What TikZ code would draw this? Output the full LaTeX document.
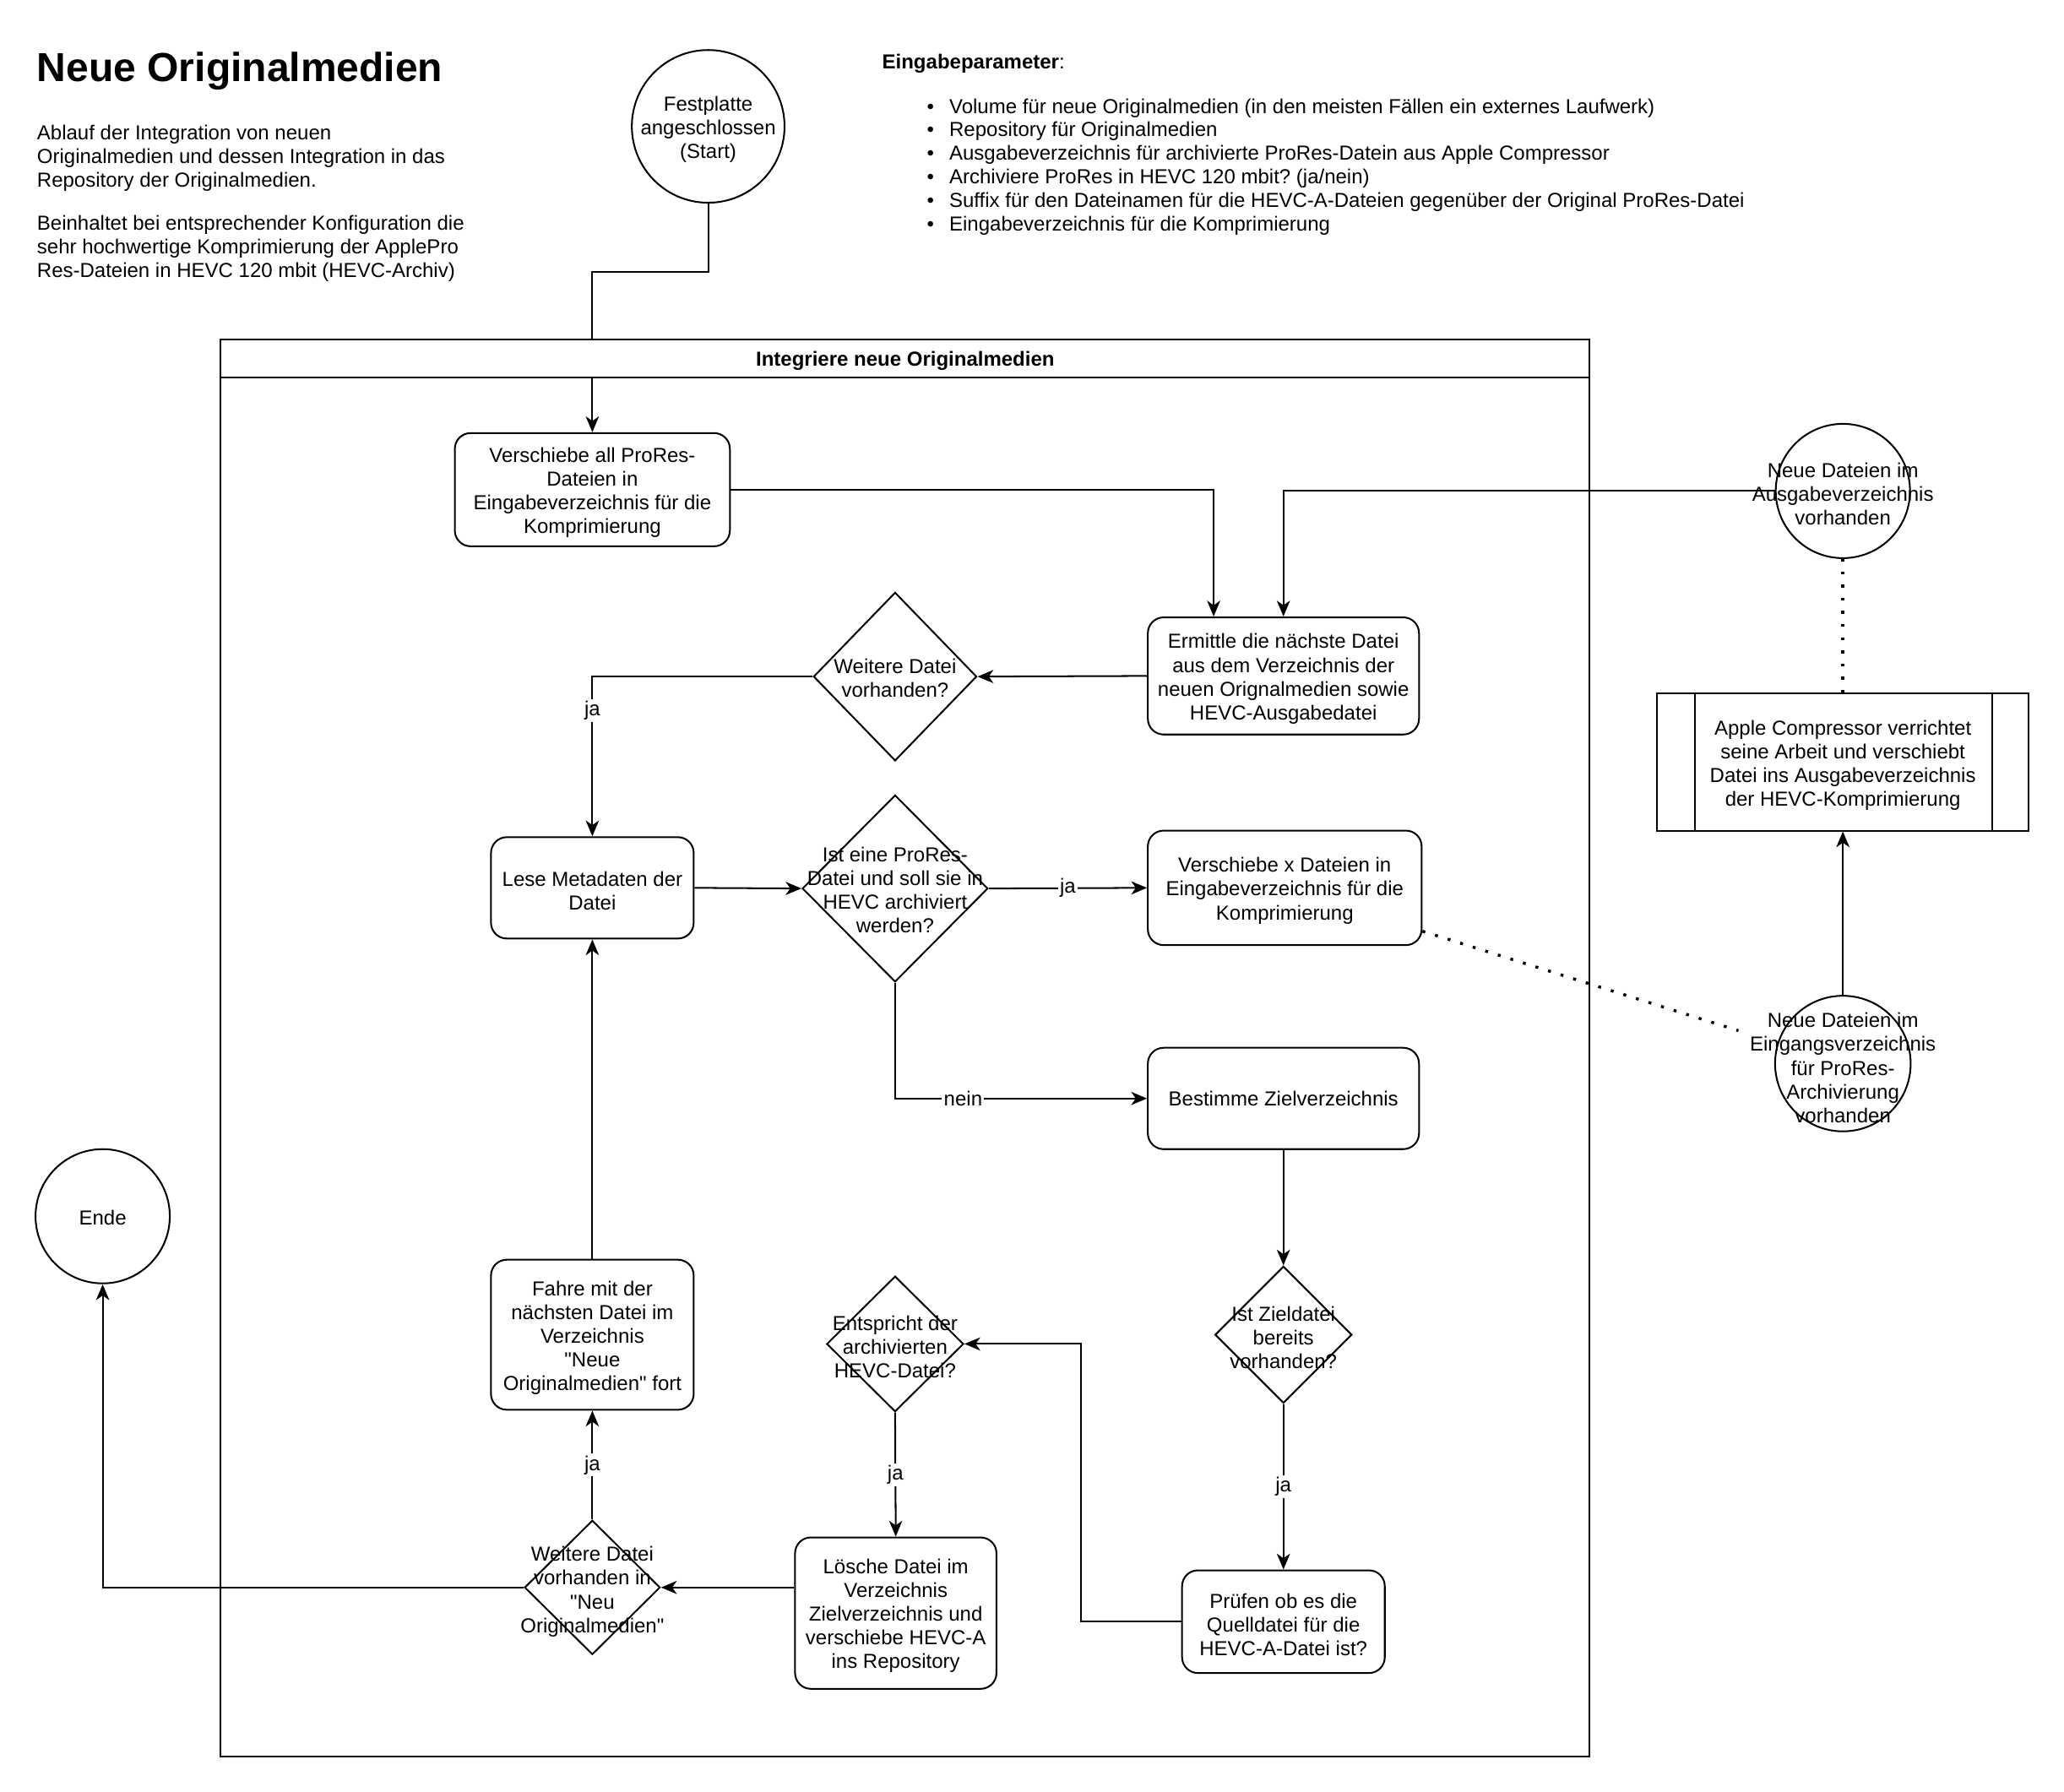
\documentclass[tikz,border=0pt]{standalone}
\usepackage{fontspec}
\setmainfont{Liberation Sans}[Ligatures=TeXOff]
\usetikzlibrary{arrows.meta,shapes.geometric}
\frenchspacing

\tikzset{
  every node/.style={font=\fontsize{15.4}{18}\selectfont},
  box/.style={draw, line width=1.3pt, rounded corners=12pt, inner sep=0pt, align=center},
  lowered/.style={execute at begin node={\rule{0pt}{15.8pt}}},
  dia/.style={draw, diamond, line width=1.3pt, inner sep=0pt},
  circ/.style={draw, circle, line width=1.3pt, inner sep=0pt},
  txt/.style={align=center, inner sep=0pt, yshift=-2.2pt},
  flow/.style={line width=1.3pt, -{Stealth[length=12pt,width=10pt,inset=3.5pt]}},
  link/.style={line width=1.3pt},
  dots/.style={line width=2.2pt, dash pattern=on 2.2pt off 7.8pt},
  tag/.style={fill=white, inner sep=1.5pt},
}

\begin{document}
\begin{tikzpicture}[x=1pt, y=-1pt]
\useasboundingbox (0,0) rectangle (1568,1361);

% --- heading and description ---
\node[anchor=base west, inner sep=0pt, font=\fontsize{30.8}{36}\selectfont\bfseries] (title) at (28,62) {Neue Originalmedien};
\node[anchor=west, align=left, inner sep=0pt, font=\fontsize{15.4}{17.9}\selectfont] (desc1) at (28,120)
  {Ablauf der Integration von neuen\\Originalmedien und dessen Integration in das\\Repository der Originalmedien.};
\node[anchor=west, align=left, inner sep=0pt, font=\fontsize{15.4}{17.9}\selectfont] (desc2) at (28,189)
  {Beinhaltet bei entsprechender Konfiguration die\\sehr hochwertige Komprimierung der ApplePro\\Res-Dateien in HEVC 120 mbit (HEVC-Archiv)};

% --- input parameters ---
\node[anchor=base west, inner sep=0pt] (params) at (670,52.5) {\textbf{Eingabeparameter}:};
\foreach \t [count=\i] in {
  Volume für neue Originalmedien (in den meisten Fällen ein externes Laufwerk),
  Repository für Originalmedien,
  Ausgabeverzeichnis für archivierte ProRes-Datein aus Apple Compressor,
  Archiviere ProRes in HEVC 120 mbit? (ja/nein),
  Suffix für den Dateinamen für die HEVC-A-Dateien gegenüber der Original ProRes-Datei,
  Eingabeverzeichnis für die Komprimierung}{
  \node[anchor=base west, inner sep=0pt] (bul\i) at (704,86+17.9*\i-17.9) {•};
  \node[anchor=base west, inner sep=0pt] (par\i) at (721,86+17.9*\i-17.9) {\t};
}

% --- pool ---
\node[draw, line width=1.3pt, minimum width=1040pt, minimum height=1077pt, anchor=north west, inner sep=0pt] (pool) at (167,257) {};
\node[draw, line width=1.3pt, minimum width=1040pt, minimum height=29pt, anchor=north west, inner sep=0pt, font=\fontsize{15.4}{18}\selectfont\bfseries, lowered] (poolhead) at (167,257) {Integriere neue Originalmedien};

% --- start / end ---
\node[circ, minimum size=116pt] (start) at (538,96) {};
\node[txt] (startt) at (start) {Festplatte\\angeschlossen\\(Start)};
\node[circ, minimum size=102pt] (ende) at (78,924) {};
\node[txt, yshift=1.2pt] (endet) at (ende) {Ende};

% --- process boxes (shape first, then its text) ---
\node[box, minimum width=209pt, minimum height=86pt] (b1) at (450,372) {};
\node[txt] (b1t) at (b1) {Verschiebe all ProRes-\\Dateien in\\Eingabeverzeichnis für die\\Komprimierung};
\node[box, minimum width=206pt, minimum height=89pt] (b2) at (975,513.5) {};
\node[txt] (b2t) at (b2) {Ermittle die nächste Datei\\aus dem Verzeichnis der\\neuen Orignalmedien sowie\\HEVC-Ausgabedatei};
\node[box, minimum width=154pt, minimum height=77pt] (b3) at (450,674.5) {};
\node[txt] (b3t) at (b3) {Lese Metadaten der\\Datei};
\node[box, minimum width=208pt, minimum height=87pt] (b4) at (976,674.5) {};
\node[txt] (b4t) at (b4) {Verschiebe x Dateien in\\Eingabeverzeichnis für die\\Komprimierung};
\node[box, minimum width=206pt, minimum height=77pt] (b5) at (975,834.5) {Bestimme Zielverzeichnis};
\node[box, minimum width=154pt, minimum height=78pt] (b6) at (975,1232) {};
\node[txt] (b6t) at (b6) {Prüfen ob es die\\Quelldatei für die\\HEVC-A-Datei ist?};
\node[box, minimum width=153pt, minimum height=115pt] (b7) at (680.5,1225.5) {};
\node[txt] (b7t) at (b7) {Lösche Datei im\\Verzeichnis\\Zielverzeichnis und\\verschiebe HEVC-A\\ins Repository};
\node[box, minimum width=154pt, minimum height=114pt] (b8) at (450,1014) {};
\node[txt] (b8t) at (b8) {Fahre mit der\\nächsten Datei im\\Verzeichnis\\"Neue\\Originalmedien" fort};

% --- decisions ---
\node[dia, minimum width=124pt, minimum height=128pt] (d1) at (680,514) {};
\node[txt, yshift=1pt] (d1t) at (d1) {Weitere Datei\\vorhanden?};
\node[dia, minimum width=141pt, minimum height=142pt] (d2) at (680,675) {};
\node[txt] (d2t) at (680,674) {Ist eine ProRes-\\Datei und soll sie in\\HEVC archiviert\\werden?};
\node[dia, minimum width=104pt, minimum height=104pt] (d3) at (975,1014) {};
\node[txt] (d3t) at (d3) {Ist Zieldatei\\bereits\\vorhanden?};
\node[dia, minimum width=104pt, minimum height=103pt] (d4) at (680,1021) {};
\node[txt] (d4t) at (d4) {Entspricht der\\archivierten\\HEVC-Datei?};
\node[dia, minimum width=103pt, minimum height=102pt] (d5) at (450,1206) {};
\node[txt] (d5t) at (450,1207) {Weitere Datei\\vorhanden in\\"Neu\\Originalmedien"};

% --- Apple Compressor side ---
\node[circ, minimum size=102pt] (c1) at (1400,373) {};
\node[txt] (c1t) at (c1) {Neue Dateien im\\Ausgabeverzeichnis\\vorhanden};
\node[circ, minimum size=103pt] (c2) at (1400,808) {};
\node[txt] (c2t) at (1400,809) {Neue Dateien im\\Eingangsverzeichnis\\für ProRes-\\Archivierung\\vorhanden};
\node[draw, line width=1.3pt, minimum width=282pt, minimum height=104pt, inner sep=0pt] (proc) at (1400,579) {};
\node[txt] (proct) at (proc) {Apple Compressor verrichtet\\seine Arbeit und verschiebt\\Datei ins Ausgabeverzeichnis\\der HEVC-Komprimierung};
\draw[link] ([xshift=29pt]proc.north west) -- ([xshift=29pt]proc.south west);
\draw[link] ([xshift=-28pt]proc.north east) -- ([xshift=-28pt]proc.south east);

% --- connectors ---
\draw[link] (start.south) -- ++(0,52) -| (poolhead.north -| b1.north);
\draw[flow] (poolhead.south -| b1.north) -- (b1.north);
\draw[flow] (b1.east) -| ([xshift=-53pt]b2.north);
\draw[flow] (c1.west) -| (b2.north);
\draw[flow] (b2.west) -- (d1.east);
\draw[flow] (d1.west) -| node[tag, pos=0.607] {ja} (b3.north);
\draw[flow] (b3.east) -- (d2.west);
\draw[flow] (d2.east) -- node[tag] {ja} (b4.west);
\draw[flow] (d2.south) |- node[tag, pos=0.635] {nein} (b5.west);
\draw[flow] (b5.south) -- (d3.north);
\draw[flow] (d3.south) -- node[tag] {ja} (b6.north);
\draw[flow] (b6.west) -- ++(-76,0) |- (d4.east);
\draw[flow] (d4.south) -- node[tag] {ja} (b7.north);
\draw[flow] (b7.west |- d5.east) -- (d5.east);
\draw[flow] (d5.north) -- node[tag] {ja} (b8.south);
\draw[flow] (b8.north) -- (b3.south);
\draw[flow] (d5.west) -| (ende.south);
\draw[flow] (c2.north) -- (proc.south);
\draw[dots] (proc.north) -- (c1.south);
\draw[dots, shorten >=31pt] (b4) -- (c2);
\end{tikzpicture}
\end{document}
